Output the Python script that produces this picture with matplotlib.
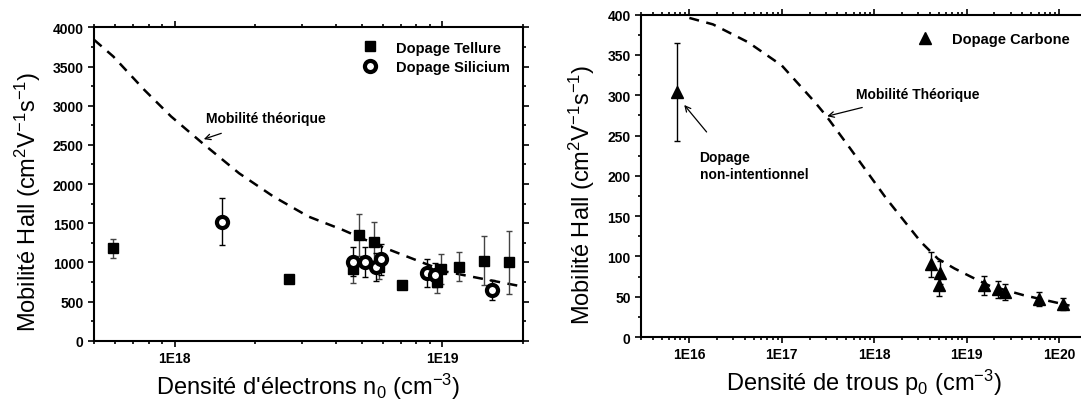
import matplotlib
matplotlib.use("Agg")
import matplotlib.pyplot as plt
from matplotlib.ticker import FixedLocator, FuncFormatter, LogLocator, MultipleLocator, NullFormatter
import numpy as np

plt.rcParams['font.family'] = ['Liberation Sans', 'DejaVu Sans']
plt.rcParams['mathtext.fontset'] = 'custom'
plt.rcParams['mathtext.rm'] = 'Liberation Sans'
plt.rcParams['mathtext.it'] = 'Liberation Sans'
plt.rcParams['mathtext.bf'] = 'Liberation Sans:bold'

# ---- n-type GaAs: Te and Si doping ----
te_n = [5.9e17, 2.68e18, 4.64e18, 4.9e18, 5.56e18, 5.8e18, 7.08e18, 9.57e18, 9.85e18, 1.15e19, 1.43e19, 1.78e19]
te_mu = [1180, 784, 910, 1350, 1265, 945, 711, 754, 920, 946, 1022, 1001]
te_err = [120, 40, 170, 270, 250, 160, 30, 150, 190, 190, 310, 400]

si_n = [1.50e18, 4.64e18, 5.14e18, 5.66e18, 5.89e18, 8.75e18, 9.35e18, 1.53e19]
si_mu = [1521, 1010, 1005, 946, 1039, 869, 839, 647]
si_err = [305, 190, 190, 180, 200, 180, 150, 125]

theo_n = [5.0e17, 5.9e17, 7.7e17, 9.7e17, 1.27e18, 1.74e18, 2.34e18, 3.16e18, 4.25e18, 5.7e18, 7.67e18, 1.03e19, 1.38e19, 2.0e19]
theo_n_mu = [3842, 3629, 3203, 2863, 2522, 2138, 1840, 1585, 1414, 1223, 1052, 882, 797, 690]

# ---- p-type GaAs: C doping ----
c_p = [7.4e15, 4.1e18, 5.2e18, 5.0e18, 1.53e19, 2.2e19, 2.6e19, 6.0e19, 1.11e20]
c_mu = [304, 90, 80, 64, 64, 59, 56, 47, 41]
c_err = [61, 16, 14, 13, 12, 11, 10, 9, 8]

theo_p = [1.0e16, 1.8e16, 4.3e16, 1.0e17, 2.3e17, 3.0e17, 5.5e17, 1.35e18, 3.2e18, 4.9e18, 7.4e18, 1.15e19, 1.74e19, 4.1e19, 9.1e19, 1.3e20]
theo_p_mu = [396, 388, 366, 337, 291, 275, 234, 172, 118, 97, 85, 74, 64, 52, 43, 39]

fig = plt.figure(figsize=(10.81, 4.10), dpi=100)
ax1 = fig.add_axes([0.087, 0.1666, 0.3968, 0.7641])
ax2 = fig.add_axes([0.593, 0.1756, 0.4124, 0.7861])

def fmt_exp(v, pos):
    return "1E%d" % round(np.log10(v))

def style(ax):
    for s in ax.spines.values():
        s.set_linewidth(1.5)
    ax.set_xscale('log')
    ax.tick_params(which='both', direction='out', top=True, right=True, width=1.2)
    ax.tick_params(which='major', length=4.5, labelsize=10, pad=3)
    ax.tick_params(which='minor', length=2.5)
    ax.xaxis.set_major_formatter(FuncFormatter(fmt_exp))
    ax.xaxis.set_minor_locator(LogLocator(base=10, subs=np.arange(2, 10)))
    ax.xaxis.set_minor_formatter(NullFormatter())
    for lab in ax.get_xticklabels() + ax.get_yticklabels():
        lab.set_fontweight('bold')

# Left panel
ax1.plot(theo_n, theo_n_mu, ls=(0, (4, 3)), color='black', lw=1.8, zorder=2)
ax1.errorbar(te_n, te_mu, yerr=te_err, fmt='none', ecolor='#444444', elinewidth=1.0,
             capsize=2.5, ls=':', zorder=3)
ax1.errorbar(si_n, si_mu, yerr=si_err, fmt='none', ecolor='black', elinewidth=1.0,
             capsize=2.5, zorder=3)
ax1.plot(te_n, te_mu, 's', color='black', ms=7, label='Dopage Tellure', zorder=4)
ax1.plot(si_n, si_mu, 'o', mfc='white', mec='black', mew=3.0, ms=8, label='Dopage Silicium', zorder=5)
ax1.set_xlim(5e17, 2e19)
ax1.set_ylim(0, 4000)
ax1.yaxis.set_major_locator(MultipleLocator(500))
ax1.yaxis.set_minor_locator(MultipleLocator(250))
ax1.xaxis.set_major_locator(FixedLocator([1e18, 1e19]))
style(ax1)
ax1.set_xlabel(r"Densité d'électrons n$_{\rm 0}$ (cm$^{-3}$)", fontsize=17, labelpad=4)
ax1.set_ylabel(r"Mobilité Hall (cm$^{2}$V$^{-1}$s$^{-1}$)", fontsize=17)
ax1.yaxis.set_label_coords(-0.118, 0.445)
leg1 = ax1.legend(loc='upper right', frameon=False, fontsize=10.5, handlelength=1.2,
                  handletextpad=1.2, borderaxespad=0.5, labelspacing=0.35)
for t in leg1.get_texts():
    t.set_fontweight('bold')
ax1.annotate("Mobilité théorique", xy=(1.285e18, 2573), xytext=(2.2e18, 2840),
             fontsize=10, fontweight='bold', ha='center', va='center',
             arrowprops=dict(arrowstyle='->', color='black', lw=0.9, shrinkA=12, shrinkB=0))

# Right panel
ax2.plot(theo_p, theo_p_mu, ls=(0, (4, 3)), color='black', lw=1.8, zorder=2)
ax2.errorbar(c_p, c_mu, yerr=c_err, fmt='none', ecolor='black', elinewidth=1.0,
             capsize=2.5, zorder=3)
ax2.plot(c_p, c_mu, '^', color='black', ms=8.5, label='Dopage Carbone', zorder=4)
ax2.set_xlim(3e15, 2e20)
ax2.set_ylim(0, 400)
ax2.yaxis.set_major_locator(MultipleLocator(50))
ax2.yaxis.set_minor_locator(MultipleLocator(25))
ax2.xaxis.set_major_locator(FixedLocator([1e16, 1e17, 1e18, 1e19, 1e20]))
style(ax2)
ax2.set_xlabel(r"Densité de trous p$_{\rm 0}$ (cm$^{-3}$)", fontsize=17, labelpad=4)
ax2.set_ylabel(r"Mobilité Hall (cm$^{2}$V$^{-1}$s$^{-1}$)", fontsize=17)
ax2.yaxis.set_label_coords(-0.099, 0.443)
leg2 = ax2.legend(loc='upper right', frameon=False, fontsize=10.5, handlelength=1.2,
                  handletextpad=1.2, borderaxespad=0.8)
for t in leg2.get_texts():
    t.set_fontweight('bold')
ax2.annotate("Mobilité Théorique", xy=(3.1e17, 274), xytext=(2.95e18, 302),
             fontsize=10, fontweight='bold', ha='center', va='center',
             arrowprops=dict(arrowstyle='->', color='black', lw=0.9, shrinkA=12, shrinkB=0))
ax2.annotate("Dopage\nnon-intentionnel", xy=(8.8e15, 288), xytext=(1.29e16, 213),
             fontsize=10, fontweight='bold', ha='left', va='center', linespacing=1.3,
             arrowprops=dict(arrowstyle='->', color='black', lw=0.9, shrinkA=14, shrinkB=0,
                             relpos=(0.2, 1.0)))

fig.savefig("out.png", dpi=100)
